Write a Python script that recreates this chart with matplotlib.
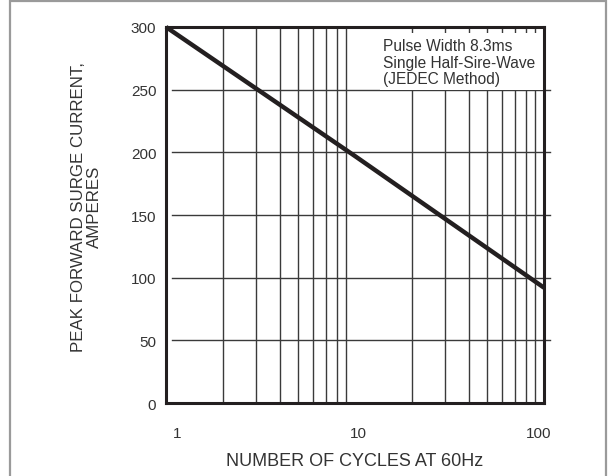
import matplotlib
matplotlib.use("Agg")
import matplotlib.pyplot as plt
import matplotlib.transforms as mtransforms
from matplotlib.patches import Rectangle

plt.rcParams["font.family"] = ["Liberation Sans", "DejaVu Sans"]

# data
cycles = [1, 10, 100]
surge_current = [300, 197, 92]

x_ticks = [1, 10, 100]
x_tick_labels = ["1", "10", "100"]
y_ticks = [0, 50, 100, 150, 200, 250, 300]
v_grid = [2, 3, 4, 5, 6, 7, 8, 9, 20, 30, 40, 50, 60, 70, 80, 90]
note_lines = ["Pulse Width 8.3ms", "Single Half-Sire-Wave", "(JEDEC Method)"]

x_label = "NUMBER OF CYCLES AT 60Hz"
y_label = "PEAK FORWARD SURGE CURRENT,\nAMPERES"

text_color = "#333333"
line_color = "#231f20"

fig = plt.figure(figsize=(6.09, 4.77), dpi=100)
ax = fig.add_axes([0.2726, 0.1530, 0.6207, 0.7883])

ax.set_xscale("log")
ax.set_xlim(1, 100)
ax.set_ylim(0, 300)

# vertical grid lines
for xv in v_grid:
    ax.axvline(xv, color="#3a3a3a", linewidth=1.0, zorder=1)

# horizontal grid lines start a bit right of the spine and run past the right side
for yv in y_ticks[1:-1]:
    ax.axhline(yv, xmin=0.016, xmax=1.015, color="#3a3a3a", linewidth=1.0,
               zorder=1, clip_on=False)

# white note box covering the grid
ax.add_patch(Rectangle((0.566, 250), 0.43, 45.5, transform=ax.get_yaxis_transform(),
                       facecolor="white", edgecolor="none", zorder=2))
ax.text(0.575, 0.97, "\n".join(note_lines), transform=ax.transAxes,
        ha="left", va="top", fontsize=11.2, color=text_color,
        linespacing=1.13, zorder=3)

ax.plot(cycles, surge_current, color=line_color, linewidth=3.2,
        solid_capstyle="butt", zorder=4, clip_on=False)

for side in ["left", "right", "top", "bottom"]:
    ax.spines[side].set_linewidth(2.2)
    ax.spines[side].set_color(line_color)
    ax.spines[side].set_zorder(5)

ax.set_xticks(x_ticks)
ax.set_xticklabels(x_tick_labels)
ax.xaxis.set_minor_locator(matplotlib.ticker.NullLocator())
ax.set_yticks(y_ticks)
ax.tick_params(axis="x", length=0, pad=16.5, labelsize=11, labelcolor=text_color)
ax.tick_params(axis="y", length=0, pad=7, labelsize=11, labelcolor=text_color)

# the printed x tick labels sit a little off their grid positions
for lbl, dx in zip(ax.get_xticklabels(), [11, 3, -5]):
    lbl.set_transform(lbl.get_transform()
                      + mtransforms.ScaledTranslation(dx / 100, 0, fig.dpi_scale_trans))

ax.set_xlabel(x_label, fontsize=13, color=text_color, labelpad=9)
ax.text(-0.21, 0.524, y_label, transform=ax.transAxes, rotation=90,
        ha="center", va="center", multialignment="center",
        fontsize=12.2, color=text_color, linespacing=1.03)

# gray frame around the figure
fig.patches.append(Rectangle((10 / 609, -0.05), 596 / 609, 1.05 - 1.5 / 477,
                             transform=fig.transFigure, fill=False,
                             edgecolor="#9a9a9a", linewidth=1.6))

fig.savefig("out.png", dpi=100)
